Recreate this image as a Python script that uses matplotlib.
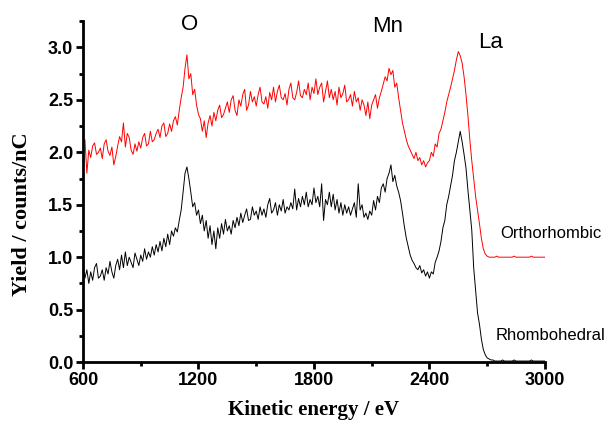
import numpy as np
import matplotlib.pyplot as plt

# kinetic energy grid (eV), 10 eV steps from 600 to 3000
energy = np.arange(600, 3001, 10)

# yield, orthorhombic (red, offset by +1)
ortho = [
    2.08, 2.12, 1.80, 2.02, 1.95, 2.06, 2.09, 1.98, 2.00, 2.04,
    1.94, 2.08, 2.12, 2.01, 1.97, 2.05, 1.88, 1.96, 2.06, 2.15,
    2.10, 2.28, 2.05, 2.18, 2.14, 2.02, 1.98, 2.08, 2.01, 2.10,
    2.04, 2.14, 2.18, 2.06, 2.08, 2.20, 2.10, 2.12, 2.18, 2.22,
    2.14, 2.25, 2.28, 2.15, 2.18, 2.27, 2.20, 2.30, 2.34, 2.26,
    2.40, 2.52, 2.62, 2.80, 2.93, 2.70, 2.75, 2.55, 2.60, 2.45,
    2.36, 2.32, 2.20, 2.30, 2.14, 2.28, 2.35, 2.25, 2.38, 2.30,
    2.40, 2.45, 2.33, 2.36, 2.42, 2.48, 2.38, 2.50, 2.54, 2.40,
    2.35, 2.50, 2.44, 2.55, 2.60, 2.40, 2.45, 2.58, 2.48, 2.53,
    2.44, 2.55, 2.62, 2.48, 2.46, 2.53, 2.42, 2.57, 2.50, 2.62,
    2.48, 2.58, 2.64, 2.52, 2.50, 2.56, 2.45, 2.60, 2.66, 2.52,
    2.50, 2.57, 2.68, 2.54, 2.52, 2.60, 2.55, 2.66, 2.50, 2.62,
    2.56, 2.70, 2.55, 2.62, 2.66, 2.48, 2.58, 2.68, 2.52, 2.60,
    2.50, 2.58, 2.45, 2.62, 2.52, 2.56, 2.64, 2.48, 2.50, 2.55,
    2.44, 2.58, 2.48, 2.52, 2.40, 2.50, 2.45, 2.35, 2.48, 2.32,
    2.45, 2.50, 2.55, 2.42, 2.52, 2.58, 2.65, 2.72, 2.68, 2.80,
    2.74, 2.78, 2.62, 2.66, 2.52, 2.40, 2.28, 2.20, 2.12, 2.06,
    2.02, 1.98, 1.94, 2.00, 1.92, 1.95, 1.88, 1.92, 1.86, 1.90,
    1.92, 2.00, 1.96, 2.08, 2.05, 2.18, 2.22, 2.30, 2.38, 2.48,
    2.55, 2.62, 2.70, 2.78, 2.88, 2.96, 2.92, 2.85, 2.72, 2.55,
    2.35, 2.12, 1.92, 1.75, 1.58, 1.45, 1.32, 1.18, 1.08, 1.03,
    1.01, 1.00, 1.00, 1.00, 1.00, 1.01, 1.00, 1.00, 1.00, 1.00,
    1.00, 1.00, 1.00, 1.00, 1.01, 1.00, 1.00, 1.00, 1.00, 1.00,
    1.00, 1.00, 1.00, 1.01, 1.00, 1.00, 1.00, 1.00, 1.00, 1.00,
    1.00,
]

# yield, rhombohedral (black)
rhombo = [
    0.92, 0.80, 0.88, 0.75, 0.86, 0.78, 0.90, 0.94, 0.80, 0.82,
    0.88, 0.78, 0.90, 0.84, 0.96, 0.86, 0.80, 0.92, 0.98, 0.88,
    1.02, 0.90, 1.05, 0.92, 1.00, 0.95, 0.90, 1.04, 0.98, 0.92,
    1.02, 0.96, 1.08, 0.98, 1.05, 1.00, 1.10, 1.02, 1.12, 1.05,
    1.15, 1.06, 1.18, 1.10, 1.22, 1.12, 1.25, 1.20, 1.28, 1.24,
    1.35, 1.45, 1.62, 1.80, 1.86, 1.75, 1.62, 1.48, 1.52, 1.40,
    1.45, 1.32, 1.40, 1.25, 1.35, 1.18, 1.30, 1.12, 1.25, 1.08,
    1.28, 1.18, 1.32, 1.22, 1.36, 1.25, 1.30, 1.22, 1.35, 1.28,
    1.38, 1.30, 1.42, 1.33, 1.40, 1.46, 1.35, 1.36, 1.48, 1.40,
    1.44, 1.36, 1.48, 1.40, 1.46, 1.38, 1.50, 1.56, 1.42, 1.45,
    1.52, 1.40, 1.50, 1.44, 1.55, 1.42, 1.48, 1.45, 1.52, 1.46,
    1.65, 1.45, 1.56, 1.48, 1.58, 1.50, 1.62, 1.48, 1.55, 1.50,
    1.66, 1.52, 1.58, 1.48, 1.70, 1.35, 1.55, 1.50, 1.62, 1.48,
    1.60, 1.45, 1.55, 1.42, 1.52, 1.40, 1.50, 1.42, 1.48, 1.40,
    1.46, 1.52, 1.38, 1.70, 1.45, 1.50, 1.38, 1.42, 1.36, 1.44,
    1.40, 1.54, 1.45, 1.58, 1.52, 1.66, 1.70, 1.62, 1.75, 1.80,
    1.88, 1.72, 1.78, 1.68, 1.62, 1.54, 1.42, 1.29, 1.18, 1.10,
    1.02, 0.97, 0.94, 0.90, 0.88, 0.92, 0.85, 0.88, 0.82, 0.86,
    0.80, 0.86, 0.84, 0.95, 1.00, 1.06, 1.15, 1.28, 1.35, 1.50,
    1.58, 1.68, 1.78, 1.92, 2.00, 2.10, 2.20, 2.10, 1.98, 1.85,
    1.64, 1.45, 1.26, 0.90, 0.68, 0.47, 0.36, 0.22, 0.12, 0.07,
    0.04, 0.03, 0.02, 0.02, 0.01, 0.01, 0.01, 0.01, 0.02, 0.01,
    0.01, 0.01, 0.01, 0.01, 0.02, 0.01, 0.01, 0.01, 0.01, 0.01,
    0.01, 0.01, 0.01, 0.02, 0.01, 0.01, 0.01, 0.01, 0.01, 0.01,
    0.01,
]

x_ticks = [600, 1200, 1800, 2400, 3000]
y_ticks = [0.0, 0.5, 1.0, 1.5, 2.0, 2.5, 3.0]

fig = plt.figure(figsize=(6.15, 4.23), dpi=100)
ax = fig.add_axes([0.135, 0.144, 0.751, 0.806])

ax.plot(energy, ortho, color='#ff0000', lw=0.7)
ax.plot(energy, rhombo, color='black', lw=0.7)

ax.set_xlim(600, 3000)
ax.set_ylim(0, 3.25)
ax.set_xticks(x_ticks)
ax.set_yticks(y_ticks)
ax.set_xticks([900, 1500, 2100, 2700], minor=True)
ax.set_yticks(np.arange(0.25, 3.3, 0.5), minor=True)
ax.set_yticklabels([f'{v:.1f}' for v in y_ticks])

for s in ['top', 'right']:
    ax.spines[s].set_visible(False)
for s in ['left', 'bottom']:
    ax.spines[s].set_linewidth(2)

ax.tick_params(which='major', direction='out', length=5, width=2, pad=2)
ax.tick_params(which='minor', direction='out', length=3, width=2)
for lab in ax.get_xticklabels() + ax.get_yticklabels():
    lab.set_fontfamily('Liberation Sans')
    lab.set_fontweight('bold')
    lab.set_fontsize(13)

fig.text(0.036, 1 - 214 / 423, 'Yield / counts/nC', rotation=90, ha='center', va='center',
         family='Liberation Serif', weight='bold', fontsize=16)
fig.text(314 / 615, 1 - 410 / 423, 'Kinetic energy / eV', ha='center', va='center',
         family='Liberation Serif', weight='bold', fontsize=15)

peak_font = dict(family='Liberation Sans', fontsize=16, ha='center', va='center')
fig.text(190 / 615, 1 - 25 / 423, 'O', **peak_font)
fig.text(388 / 615, 1 - 26 / 423, 'Mn', **peak_font)
fig.text(491 / 615, 1 - 43 / 423, 'La', **peak_font)

fig.text(500 / 615, 1 - 233 / 423, 'Orthorhombic', family='Liberation Sans', fontsize=12,
         ha='left', va='center')
fig.text(496 / 615, 1 - 335 / 423, 'Rhombohedral', family='Liberation Sans', fontsize=12,
         ha='left', va='center')

fig.savefig('out.png', dpi=100)
